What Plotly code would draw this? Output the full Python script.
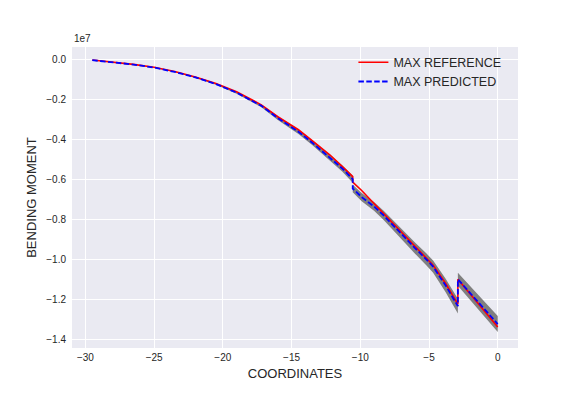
import numpy as np
import plotly.graph_objects as go

# coordinates along the member
coords = [-29.5, -28.0, -26.5, -25.0, -23.5, -22.0, -20.5, -19.0, -17.2, -16.0,
          -15.0, -14.5, -13.5, -12.2, -11.3, -10.55, -10.55, -9.9, -9.0, -8.3,
          -7.0, -6.0, -5.2, -4.7, -3.8, -2.9, -2.9, 0.0]

# bending moment, units of 1e7
max_ref = [0.000, -0.010, -0.022, -0.037, -0.058, -0.085, -0.118, -0.160, -0.225, -0.285,
           -0.326, -0.350, -0.405, -0.477, -0.535, -0.585, -0.613, -0.655, -0.720, -0.770,
           -0.865, -0.935, -0.990, -1.030, -1.120, -1.225, -1.100, -1.340]
max_pred = [-0.001, -0.011, -0.023, -0.038, -0.060, -0.087, -0.121, -0.164, -0.230, -0.292,
            -0.335, -0.360, -0.415, -0.490, -0.545, -0.598, -0.645, -0.688, -0.735, -0.780,
            -0.875, -0.945, -1.000, -1.037, -1.130, -1.235, -1.100, -1.325]
pred_low = [-0.001, -0.011, -0.024, -0.039, -0.062, -0.090, -0.125, -0.169, -0.237, -0.301,
            -0.345, -0.371, -0.427, -0.505, -0.561, -0.616, -0.664, -0.709, -0.757, -0.803,
            -0.901, -0.973, -1.030, -1.068, -1.164, -1.272, -1.133, -1.365]
pred_high = [-0.001, -0.011, -0.022, -0.037, -0.058, -0.084, -0.117, -0.159, -0.223, -0.283,
             -0.325, -0.349, -0.403, -0.475, -0.529, -0.580, -0.626, -0.667, -0.713, -0.757,
             -0.849, -0.917, -0.970, -1.006, -1.096, -1.198, -1.067, -1.285]

x_ticks = [-30, -25, -20, -15, -10, -5, 0]
y_ticks = [0.0, -0.2, -0.4, -0.6, -0.8, -1.0, -1.2, -1.4]

def mlabel(v, fmt):
    s = fmt.format(v)
    return s.replace("-", "\u2212")

x = np.array(coords)
s = 1e7

fig = go.Figure()
fig.add_trace(go.Scatter(x=x, y=np.array(pred_low) * s, mode="lines",
                         line=dict(width=0, color="grey"), showlegend=False, hoverinfo="skip"))
fig.add_trace(go.Scatter(x=x, y=np.array(pred_high) * s, mode="lines", fill="tonexty",
                         fillcolor="grey", line=dict(width=0, color="grey"),
                         showlegend=False, hoverinfo="skip"))
fig.add_trace(go.Scatter(x=x, y=np.array(max_ref) * s, mode="lines", name="MAX REFERENCE",
                         line=dict(color="#ff0000", width=1.6)))
fig.add_trace(go.Scatter(x=x, y=np.array(max_pred) * s, mode="lines", name="MAX PREDICTED",
                         line=dict(color="#0000ff", width=1.8, dash="5.5px,2.4px")))

# page body has an 8px margin, so margins are offset by 8
font = "Liberation Sans, Arial, sans-serif"
fig.update_layout(
    width=576, height=396,
    margin=dict(l=64, r=66, t=39, b=56),
    paper_bgcolor="white", plot_bgcolor="#eaeaf2",
    font=dict(family=font, color="#262626"),
    legend=dict(x=0.974, y=0.998, xanchor="right", yanchor="top", traceorder="normal",
                bgcolor="rgba(0,0,0,0)", font=dict(size=12.5, color="#262626"),
                itemwidth=30, tracegroupgap=0),
    xaxis=dict(range=[-30.975, 1.475], tickvals=x_ticks,
               ticktext=[mlabel(v, "{:d}") for v in x_ticks],
               showgrid=True, gridcolor="white", gridwidth=1.2, zeroline=False,
               ticks="", tickfont=dict(size=10, color="#262626"), showline=False,
               automargin=False, ticklabelstandoff=2,
               title=dict(text="COORDINATES", font=dict(size=13, color="#262626"), standoff=6)),
    yaxis=dict(range=[-1.445e7, 0.065e7], tickvals=[v * s for v in y_ticks],
               ticktext=[mlabel(v, "{:.1f}") for v in y_ticks],
               showgrid=True, gridcolor="white", gridwidth=1.2, zeroline=False,
               ticks="", tickfont=dict(size=10, color="#262626"), showline=False,
               automargin=False, ticklabelstandoff=5,
               title=dict(text="BENDING MOMENT", font=dict(size=13, color="#262626"), standoff=6)),
)
fig.add_annotation(text="1e7", xref="paper", yref="paper", x=0, y=1.0, xanchor="left",
                   yanchor="bottom", showarrow=False, font=dict(size=10, color="#262626"), yshift=1)

fig.write_html("out.html")
